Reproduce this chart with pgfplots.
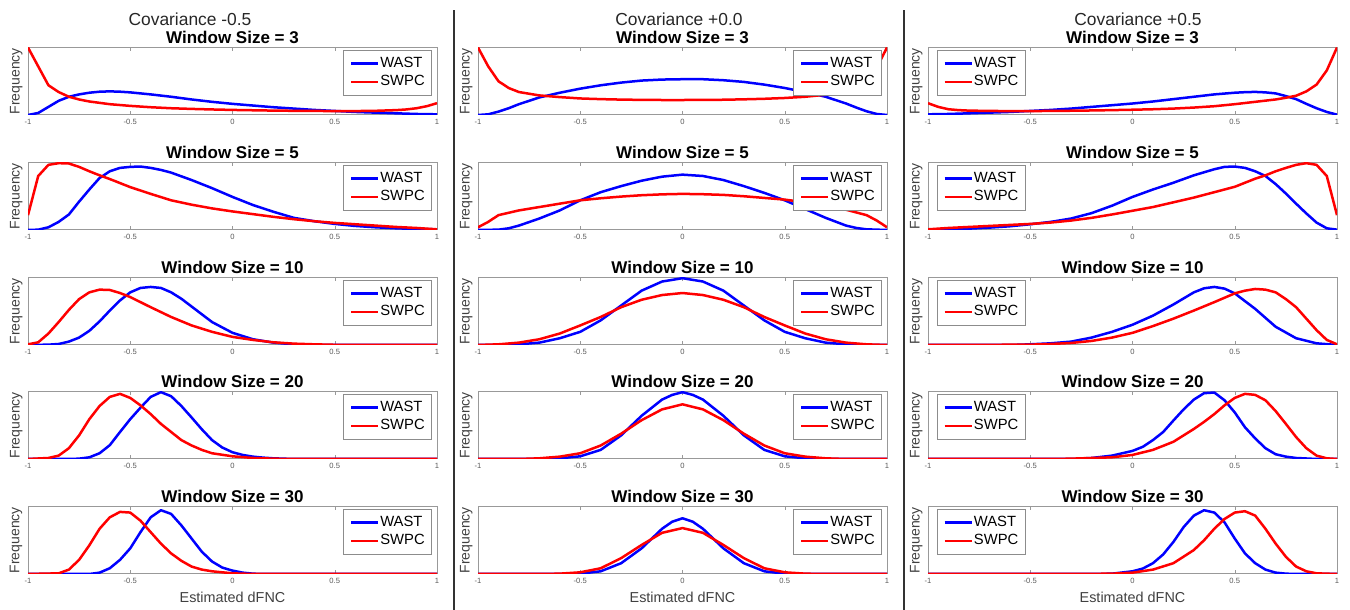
\documentclass[border=0pt]{standalone}
\usepackage{pgfplots}
\pgfplotsset{compat=1.18}
\usepackage{fontspec}
\setmainfont{Liberation Sans}
\definecolor{mblue}{RGB}{0,0,255}
\definecolor{mred}{RGB}{255,0,0}
\pgfplotsset{
 panel/.style={
  scale only axis, width=204.5pt, height=33.75pt, anchor=south west,
  xmin=-1,xmax=1,ymin=0,ymax=1,
  xtick={-1,-0.5,0,0.5,1}, xticklabels={-1,-0.5,0,0.5,1}, ytick=\empty,
  tick align=inside, major tick length=2pt,
  axis line style={black!40, line width=0.5pt}, tick style={black!40},
  xticklabel style={font=\fontsize{3.8}{4}\selectfont, text=black!65, anchor=center, yshift=-3.5pt},
  ylabel={Frequency},
  ylabel style={at={(axis description cs:-0.029,0.5)}, anchor=center, font=\fontsize{7}{7}\selectfont, text=black!75},
  every axis title shift=0pt,
  title style={at={(axis description cs:0.5,1)}, anchor=base, yshift=2pt, font=\bfseries\fontsize{8.5}{9}\selectfont},
  legend style={draw=black!45, fill=white, font=\fontsize{7.4}{8}\selectfont, inner xsep=3pt, inner ysep=3pt, row sep=1.5pt, nodes={inner sep=0.5pt, text height=5.3pt, text depth=1.4pt}},
  legend cell align=left,
  legend image code/.code={\draw[#1, line width=1.25pt] (0pt,0pt) -- (13.5pt,0pt);},
  every axis plot/.append style={line width=1.25pt, line join=round},
 },
 legR/.style={legend style={at={(axis description cs:0.988,0.97)}, anchor=north east}},
 legL/.style={legend style={at={(axis description cs:0.022,0.97)}, anchor=north west}},
 xlab/.style={xlabel={Estimated dFNC}, xlabel style={at={(axis description cs:0.5,0)}, anchor=center, yshift=-11.5pt, font=\fontsize{7.2}{8}\selectfont, text=black!75}},
}
\begin{document}
\begin{tikzpicture}
\path[use as bounding box] (0,0) rectangle (675pt,305pt);
\draw[black!80, line width=1pt] (227pt,0pt) -- (227pt,300pt);
\draw[black!80, line width=1pt] (452pt,0pt) -- (452pt,300pt);
\node[font=\fontsize{8.7}{9}\selectfont, text=black!85] at (95pt,295.5pt) {Covariance -0.5};
\node[font=\fontsize{8.7}{9}\selectfont, text=black!85] at (339.5pt,295.5pt) {Covariance +0.0};
\node[font=\fontsize{8.7}{9}\selectfont, text=black!85] at (569pt,295.5pt) {Covariance +0.5};

% ---------------- Column 1: Covariance -0.5 ----------------
\begin{axis}[panel, legR, at={(14pt,247.5pt)}, title={Window Size = 3}]
\addplot[mblue] coordinates {(-1,0) (-0.95,0.03) (-0.9,0.12) (-0.85,0.21) (-0.8,0.27) (-0.75,0.305) (-0.7,0.33) (-0.65,0.345) (-0.6,0.35) (-0.55,0.345) (-0.5,0.335) (-0.4,0.305) (-0.3,0.27) (-0.2,0.23) (-0.1,0.195) (0,0.165) (0.1,0.14) (0.2,0.115) (0.3,0.095) (0.4,0.075) (0.5,0.06) (0.6,0.045) (0.7,0.035) (0.8,0.025) (0.9,0.015) (1,0.01)};
\addplot[mred] coordinates {(-1,1) (-0.95,0.72) (-0.9,0.44) (-0.85,0.34) (-0.8,0.27) (-0.75,0.23) (-0.7,0.2) (-0.6,0.16) (-0.5,0.135) (-0.4,0.115) (-0.3,0.1) (-0.2,0.09) (-0.1,0.082) (0,0.075) (0.1,0.07) (0.2,0.065) (0.3,0.062) (0.4,0.06) (0.5,0.058) (0.6,0.058) (0.7,0.062) (0.8,0.072) (0.85,0.082) (0.9,0.1) (0.95,0.13) (1,0.175)};
\legend{WAST,SWPC}
\end{axis}
\begin{axis}[panel, legR, at={(14pt,190pt)}, title={Window Size = 5}]
\addplot[mblue] coordinates {(-1,0) (-0.95,0.005) (-0.9,0.04) (-0.85,0.12) (-0.8,0.23) (-0.75,0.42) (-0.7,0.6) (-0.65,0.77) (-0.6,0.87) (-0.55,0.92) (-0.5,0.935) (-0.45,0.94) (-0.4,0.92) (-0.35,0.89) (-0.3,0.85) (-0.2,0.74) (-0.1,0.62) (0,0.49) (0.1,0.37) (0.2,0.27) (0.3,0.18) (0.4,0.13) (0.5,0.09) (0.6,0.06) (0.7,0.04) (0.8,0.025) (0.9,0.015) (1,0.01)};
\addplot[mred] coordinates {(-1,0.22) (-0.95,0.8) (-0.9,0.965) (-0.85,0.99) (-0.8,0.985) (-0.75,0.935) (-0.7,0.87) (-0.65,0.81) (-0.6,0.755) (-0.5,0.635) (-0.4,0.535) (-0.3,0.44) (-0.2,0.375) (-0.1,0.32) (0,0.275) (0.1,0.235) (0.2,0.195) (0.3,0.16) (0.4,0.13) (0.5,0.105) (0.6,0.085) (0.7,0.065) (0.8,0.045) (0.9,0.03) (1,0.01)};
\legend{WAST,SWPC}
\end{axis}
\begin{axis}[panel, legR, at={(14pt,132.5pt)}, title={Window Size = 10}]
\addplot[mblue] coordinates {(-1,0) (-0.9,0.005) (-0.85,0.015) (-0.8,0.05) (-0.75,0.11) (-0.7,0.21) (-0.65,0.35) (-0.6,0.51) (-0.55,0.66) (-0.5,0.78) (-0.45,0.845) (-0.4,0.86) (-0.35,0.845) (-0.3,0.78) (-0.25,0.685) (-0.2,0.57) (-0.1,0.34) (0,0.18) (0.1,0.085) (0.2,0.035) (0.3,0.01) (0.4,0) (1,0)};
\addplot[mred] coordinates {(-1,0.01) (-0.95,0.04) (-0.9,0.17) (-0.85,0.34) (-0.8,0.52) (-0.75,0.68) (-0.7,0.78) (-0.65,0.82) (-0.6,0.815) (-0.55,0.77) (-0.5,0.71) (-0.45,0.635) (-0.4,0.56) (-0.3,0.415) (-0.2,0.29) (-0.1,0.195) (0,0.12) (0.1,0.075) (0.2,0.04) (0.3,0.02) (0.4,0.01) (0.5,0.003) (0.6,0) (1,0)};
\legend{WAST,SWPC}
\end{axis}
\begin{axis}[panel, legR, at={(14pt,75.5pt)}, title={Window Size = 20}]
\addplot[mblue] coordinates {(-1,0) (-0.8,0) (-0.75,0.005) (-0.7,0.025) (-0.65,0.085) (-0.6,0.205) (-0.55,0.4) (-0.5,0.59) (-0.45,0.76) (-0.4,0.92) (-0.35,0.99) (-0.3,0.93) (-0.25,0.785) (-0.2,0.615) (-0.15,0.44) (-0.1,0.28) (-0.05,0.17) (0,0.1) (0.05,0.06) (0.1,0.035) (0.15,0.02) (0.2,0.01) (0.3,0) (1,0)};
\addplot[mred] coordinates {(-1,0) (-0.9,0.015) (-0.85,0.05) (-0.8,0.16) (-0.75,0.35) (-0.7,0.59) (-0.65,0.785) (-0.6,0.92) (-0.55,0.965) (-0.5,0.905) (-0.45,0.795) (-0.4,0.665) (-0.35,0.52) (-0.3,0.4) (-0.25,0.28) (-0.2,0.2) (-0.15,0.135) (-0.1,0.085) (0,0.04) (0.1,0.015) (0.2,0.005) (0.3,0) (1,0)};
\legend{WAST,SWPC}
\end{axis}
\begin{axis}[panel, legR, xlab, at={(14pt,18pt)}, title={Window Size = 30}]
\addplot[mblue] coordinates {(-1,0) (-0.7,0) (-0.65,0.02) (-0.6,0.085) (-0.55,0.21) (-0.5,0.38) (-0.45,0.62) (-0.4,0.84) (-0.35,0.945) (-0.3,0.89) (-0.25,0.72) (-0.2,0.525) (-0.15,0.33) (-0.1,0.185) (-0.05,0.095) (0,0.05) (0.05,0.02) (0.1,0.005) (0.15,0) (1,0)};
\addplot[mred] coordinates {(-1,0) (-0.85,0.01) (-0.8,0.065) (-0.75,0.21) (-0.7,0.425) (-0.65,0.67) (-0.6,0.84) (-0.55,0.92) (-0.5,0.91) (-0.45,0.79) (-0.4,0.62) (-0.35,0.45) (-0.3,0.305) (-0.25,0.195) (-0.2,0.11) (-0.15,0.065) (-0.1,0.04) (0,0.01) (0.1,0) (1,0)};
\legend{WAST,SWPC}
\end{axis}

% ---------------- Column 2: Covariance +0.0 ----------------
\begin{axis}[panel, legR, at={(239pt,247.5pt)}, title={Window Size = 3}]
\addplot[mblue] coordinates {(-1,0) (-0.95,0.01) (-0.9,0.05) (-0.85,0.1) (-0.8,0.16) (-0.7,0.26) (-0.6,0.33) (-0.5,0.39) (-0.4,0.44) (-0.3,0.48) (-0.2,0.51) (-0.1,0.525) (0,0.53) (0.1,0.53) (0.2,0.515) (0.3,0.49) (0.4,0.45) (0.5,0.4) (0.6,0.34) (0.7,0.27) (0.8,0.17) (0.85,0.11) (0.9,0.055) (0.95,0.015) (1,0)};
\addplot[mred] coordinates {(-1,1) (-0.95,0.72) (-0.9,0.5) (-0.85,0.4) (-0.8,0.34) (-0.7,0.29) (-0.6,0.265) (-0.5,0.245) (-0.4,0.235) (-0.3,0.228) (-0.2,0.224) (-0.1,0.222) (0,0.222) (0.1,0.223) (0.2,0.226) (0.3,0.232) (0.4,0.24) (0.5,0.252) (0.6,0.27) (0.7,0.3) (0.8,0.35) (0.85,0.4) (0.9,0.5) (0.95,0.7) (1,1)};
\legend{WAST,SWPC}
\end{axis}
\begin{axis}[panel, legR, at={(239pt,190pt)}, title={Window Size = 5}]
\addplot[mblue] coordinates {(-1,0) (-0.9,0.005) (-0.85,0.025) (-0.8,0.065) (-0.7,0.17) (-0.6,0.29) (-0.5,0.44) (-0.4,0.56) (-0.3,0.65) (-0.2,0.73) (-0.1,0.79) (0,0.82) (0.1,0.8) (0.2,0.74) (0.3,0.65) (0.4,0.55) (0.5,0.44) (0.6,0.31) (0.7,0.18) (0.8,0.065) (0.85,0.03) (0.9,0.01) (1,0)};
\addplot[mred] coordinates {(-1,0.04) (-0.95,0.12) (-0.9,0.22) (-0.8,0.29) (-0.7,0.34) (-0.6,0.39) (-0.5,0.44) (-0.4,0.47) (-0.3,0.495) (-0.2,0.515) (-0.1,0.528) (0,0.535) (0.1,0.53) (0.2,0.52) (0.3,0.5) (0.4,0.475) (0.5,0.45) (0.6,0.41) (0.7,0.36) (0.8,0.3) (0.9,0.22) (0.95,0.14) (1,0.04)};
\legend{WAST,SWPC}
\end{axis}
\begin{axis}[panel, legR, at={(239pt,132.5pt)}, title={Window Size = 10}]
\addplot[mblue] coordinates {(-1,0) (-0.9,0.003) (-0.8,0.01) (-0.7,0.035) (-0.6,0.1) (-0.5,0.195) (-0.4,0.365) (-0.3,0.585) (-0.2,0.805) (-0.1,0.94) (0,0.99) (0.1,0.94) (0.2,0.805) (0.3,0.585) (0.4,0.365) (0.5,0.195) (0.6,0.1) (0.7,0.035) (0.8,0.01) (0.9,0.003) (1,0)};
\addplot[mred] coordinates {(-1,0) (-0.9,0.01) (-0.8,0.035) (-0.7,0.085) (-0.6,0.17) (-0.5,0.29) (-0.4,0.415) (-0.3,0.56) (-0.2,0.67) (-0.1,0.74) (0,0.77) (0.1,0.74) (0.2,0.67) (0.3,0.56) (0.4,0.415) (0.5,0.29) (0.6,0.17) (0.7,0.085) (0.8,0.035) (0.9,0.01) (1,0)};
\legend{WAST,SWPC}
\end{axis}
\begin{axis}[panel, legR, at={(239pt,75.5pt)}, title={Window Size = 20}]
\addplot[mblue] coordinates {(-1,0) (-0.7,0) (-0.6,0.01) (-0.5,0.04) (-0.4,0.135) (-0.3,0.35) (-0.2,0.64) (-0.1,0.88) (-0.05,0.95) (0,0.99) (0.05,0.95) (0.1,0.88) (0.2,0.64) (0.3,0.35) (0.4,0.135) (0.5,0.04) (0.6,0.01) (0.7,0) (1,0)};
\addplot[mred] coordinates {(-1,0) (-0.8,0) (-0.7,0.01) (-0.6,0.035) (-0.5,0.085) (-0.4,0.2) (-0.3,0.375) (-0.2,0.575) (-0.1,0.735) (0,0.81) (0.1,0.735) (0.2,0.575) (0.3,0.375) (0.4,0.2) (0.5,0.085) (0.6,0.035) (0.7,0.01) (0.8,0) (1,0)};
\legend{WAST,SWPC}
\end{axis}
\begin{axis}[panel, legR, xlab, at={(239pt,18pt)}, title={Window Size = 30}]
\addplot[mblue] coordinates {(-1,0) (-0.6,0) (-0.5,0.005) (-0.4,0.04) (-0.3,0.16) (-0.2,0.38) (-0.1,0.67) (-0.05,0.775) (0,0.825) (0.05,0.775) (0.1,0.67) (0.2,0.38) (0.3,0.16) (0.4,0.04) (0.5,0.005) (0.6,0) (1,0)};
\addplot[mred] coordinates {(-1,0) (-0.7,0) (-0.6,0.005) (-0.5,0.025) (-0.4,0.085) (-0.3,0.235) (-0.2,0.43) (-0.1,0.61) (0,0.68) (0.1,0.61) (0.2,0.43) (0.3,0.235) (0.4,0.085) (0.5,0.025) (0.6,0.005) (0.7,0) (1,0)};
\legend{WAST,SWPC}
\end{axis}

% ---------------- Column 3: Covariance +0.5 ----------------
\begin{axis}[panel, legL, at={(464pt,247.5pt)}, title={Window Size = 3}]
\addplot[mblue] coordinates {(-1,0.01) (-0.9,0.015) (-0.8,0.025) (-0.7,0.035) (-0.6,0.045) (-0.5,0.06) (-0.4,0.075) (-0.3,0.095) (-0.2,0.12) (-0.1,0.145) (0,0.17) (0.1,0.2) (0.2,0.235) (0.3,0.27) (0.4,0.305) (0.5,0.33) (0.55,0.338) (0.6,0.342) (0.65,0.335) (0.7,0.32) (0.75,0.28) (0.8,0.235) (0.85,0.165) (0.9,0.1) (0.95,0.045) (1,0.005)};
\addplot[mred] coordinates {(-1,0.175) (-0.95,0.12) (-0.9,0.085) (-0.85,0.072) (-0.8,0.065) (-0.7,0.06) (-0.6,0.058) (-0.5,0.058) (-0.4,0.06) (-0.3,0.063) (-0.2,0.067) (-0.1,0.072) (0,0.078) (0.1,0.085) (0.2,0.095) (0.3,0.11) (0.4,0.13) (0.5,0.16) (0.6,0.195) (0.7,0.23) (0.75,0.255) (0.8,0.285) (0.85,0.35) (0.9,0.45) (0.95,0.66) (1,1)};
\legend{WAST,SWPC}
\end{axis}
\begin{axis}[panel, legL, at={(464pt,190pt)}, title={Window Size = 5}]
\addplot[mblue] coordinates {(-1,0) (-0.9,0.01) (-0.8,0.02) (-0.7,0.035) (-0.6,0.055) (-0.5,0.085) (-0.4,0.12) (-0.3,0.17) (-0.2,0.25) (-0.1,0.36) (0,0.49) (0.1,0.6) (0.2,0.7) (0.3,0.81) (0.4,0.9) (0.45,0.935) (0.5,0.94) (0.55,0.92) (0.6,0.87) (0.65,0.8) (0.7,0.68) (0.75,0.54) (0.8,0.39) (0.85,0.245) (0.9,0.11) (0.95,0.025) (1,0.005)};
\addplot[mred] coordinates {(-1,0.01) (-0.9,0.03) (-0.8,0.045) (-0.7,0.06) (-0.6,0.075) (-0.5,0.09) (-0.4,0.11) (-0.3,0.14) (-0.2,0.18) (-0.1,0.23) (0,0.285) (0.1,0.34) (0.2,0.41) (0.3,0.48) (0.4,0.56) (0.5,0.64) (0.6,0.76) (0.65,0.81) (0.7,0.87) (0.75,0.92) (0.8,0.965) (0.85,0.99) (0.9,0.965) (0.95,0.8) (1,0.22)};
\legend{WAST,SWPC}
\end{axis}
\begin{axis}[panel, legL, at={(464pt,132.5pt)}, title={Window Size = 10}]
\addplot[mblue] coordinates {(-1,0) (-0.6,0) (-0.5,0.01) (-0.4,0.025) (-0.3,0.05) (-0.2,0.11) (-0.1,0.195) (0,0.3) (0.1,0.435) (0.2,0.6) (0.3,0.78) (0.35,0.84) (0.4,0.86) (0.45,0.835) (0.5,0.765) (0.6,0.535) (0.7,0.27) (0.8,0.1) (0.9,0.025) (1,0)};
\addplot[mred] coordinates {(-1,0) (-0.5,0.005) (-0.4,0.015) (-0.3,0.03) (-0.2,0.06) (-0.1,0.11) (0,0.18) (0.1,0.28) (0.2,0.39) (0.3,0.51) (0.4,0.635) (0.5,0.765) (0.55,0.805) (0.6,0.83) (0.65,0.82) (0.7,0.78) (0.75,0.68) (0.8,0.56) (0.85,0.39) (0.9,0.22) (0.95,0.075) (1,0.01)};
\legend{WAST,SWPC}
\end{axis}
\begin{axis}[panel, legL, at={(464pt,75.5pt)}, title={Window Size = 20}]
\addplot[mblue] coordinates {(-1,0) (-0.3,0) (-0.2,0.015) (-0.1,0.05) (0,0.12) (0.05,0.18) (0.1,0.28) (0.15,0.4) (0.2,0.57) (0.25,0.735) (0.3,0.88) (0.35,0.975) (0.4,0.985) (0.45,0.87) (0.5,0.69) (0.55,0.47) (0.6,0.305) (0.65,0.16) (0.7,0.07) (0.75,0.035) (0.8,0.015) (0.9,0) (1,0)};
\addplot[mred] coordinates {(-1,0) (-0.4,0) (-0.3,0.005) (-0.1,0.025) (0,0.06) (0.1,0.135) (0.2,0.255) (0.3,0.445) (0.35,0.55) (0.4,0.665) (0.45,0.795) (0.5,0.905) (0.55,0.965) (0.6,0.95) (0.65,0.87) (0.7,0.71) (0.75,0.52) (0.8,0.325) (0.85,0.16) (0.9,0.05) (0.95,0.01) (1,0)};
\legend{WAST,SWPC}
\end{axis}
\begin{axis}[panel, legL, xlab, at={(464pt,18pt)}, title={Window Size = 30}]
\addplot[mblue] coordinates {(-1,0) (-0.2,0) (-0.1,0.005) (0,0.04) (0.05,0.08) (0.1,0.16) (0.15,0.29) (0.2,0.475) (0.25,0.695) (0.3,0.865) (0.35,0.945) (0.4,0.91) (0.45,0.765) (0.5,0.525) (0.55,0.305) (0.6,0.16) (0.65,0.065) (0.7,0.02) (0.75,0.005) (0.8,0) (1,0)};
\addplot[mred] coordinates {(-1,0) (-0.3,0) (-0.1,0.005) (0,0.02) (0.1,0.065) (0.2,0.16) (0.3,0.355) (0.35,0.5) (0.4,0.67) (0.45,0.815) (0.5,0.91) (0.55,0.93) (0.6,0.865) (0.65,0.67) (0.7,0.45) (0.75,0.255) (0.8,0.11) (0.85,0.04) (0.9,0.01) (1,0)};
\legend{WAST,SWPC}
\end{axis}
\end{tikzpicture}
\end{document}
